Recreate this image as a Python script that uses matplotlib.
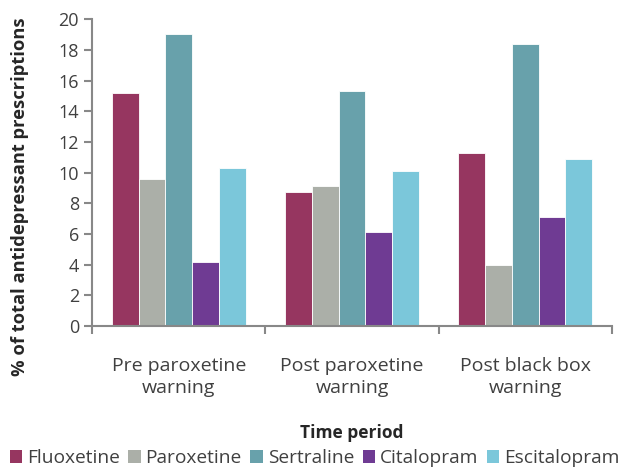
import numpy as np
import matplotlib.pyplot as plt
from matplotlib.patches import Patch

plt.rcParams['font.family'] = ['Open Sans', 'DejaVu Sans']

periods = ['Pre paroxetine\nwarning', 'Post paroxetine\nwarning', 'Post black box\nwarning']
drugs = ['Fluoxetine', 'Paroxetine', 'Sertraline', 'Citalopram', 'Escitalopram']
fluoxetine = [15.2, 8.7, 11.3]
paroxetine = [9.6, 9.1, 4.0]
sertraline = [19.0, 15.3, 18.4]
citalopram = [4.2, 6.1, 7.1]
escitalopram = [10.3, 10.1, 10.9]
series = [fluoxetine, paroxetine, sertraline, citalopram, escitalopram]
colours = ['#963660', '#abafa8', '#68a1ab', '#6f3b93', '#7bc7da']

fig = plt.figure(figsize=(6.23, 4.67), dpi=100)
ax = fig.add_axes([0.148, 0.302, 0.834, 0.657])

x = np.arange(len(periods))
w = 0.155
for i, (vals, c) in enumerate(zip(series, colours)):
    ax.bar(x + (i - 2) * w, vals, width=w, color=c, edgecolor='white', linewidth=0.6, zorder=2)

ax.set_xlim(-0.5, 2.5)
ax.set_ylim(0, 20)
ax.set_yticks(range(0, 21, 2))
ax.set_xticks(x)
ax.set_xticklabels(periods, fontsize=14, color='#404040', linespacing=1.3)
ax.set_xticks([-0.5, 0.5, 1.5, 2.5], minor=True)
ax.tick_params(axis='x', which='major', length=0, pad=22)
ax.tick_params(axis='x', which='minor', length=6, width=1.5, color='#888888')
ax.tick_params(axis='y', labelsize=13, labelcolor='#404040', length=6, width=1.5, color='#888888')

for s in ['top', 'right']:
    ax.spines[s].set_visible(False)
for s in ['left', 'bottom']:
    ax.spines[s].set_color('#888888')
    ax.spines[s].set_linewidth(1.5)

ax.set_ylabel('% of total antidepressant prescriptions', fontsize=13.2, fontweight='bold',
              color='#262626')
ax.yaxis.set_label_coords(-0.122, 0.42)
ax.set_xlabel('Time period', fontsize=12.5, fontweight='bold', color='#262626', labelpad=20)

handles = [Patch(facecolor=c, label=d) for d, c in zip(drugs, colours)]
fig.legend(handles=handles, loc='lower center', bbox_to_anchor=(0.505, -0.038), ncol=5,
           frameon=False, fontsize=13.8, handlelength=0.65, handleheight=0.65,
           handletextpad=0.25, columnspacing=0.45, labelcolor='#404040')

fig.savefig('out.png', dpi=100)
